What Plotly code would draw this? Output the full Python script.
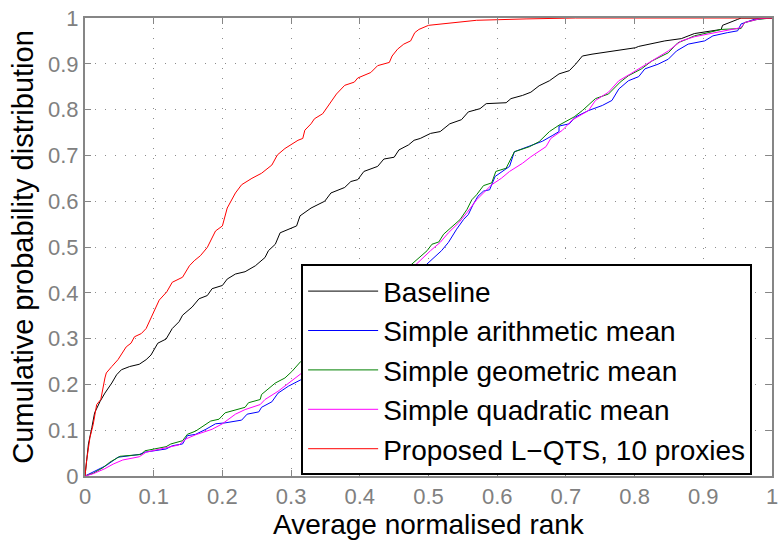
import plotly.graph_objects as go

# ---- data (average normalised rank, cumulative probability) ----
baseline_x = [0, 0.005, 0.010, 0.014, 0.022, 0.029, 0.039, 0.046, 0.053, 0.065, 0.079, 0.089, 0.096, 0.106,
              0.118, 0.127, 0.137, 0.142, 0.156, 0.166, 0.178, 0.185, 0.200, 0.207, 0.219, 0.233, 0.248, 0.262,
              0.267, 0.277, 0.284, 0.308, 0.313, 0.329, 0.349, 0.358, 0.378, 0.387, 0.397, 0.406, 0.426, 0.435,
              0.450, 0.457, 0.471, 0.479, 0.488, 0.503, 0.517, 0.531, 0.548, 0.558, 0.575, 0.584, 0.613, 0.620,
              0.637, 0.649, 0.661, 0.676, 0.690, 0.705, 0.714, 0.724, 0.738, 0.801, 0.806, 0.844, 0.868, 0.887,
              0.926, 0.928, 0.950, 0.955, 1.0]
baseline_y = [0, 0.070, 0.106, 0.138, 0.163, 0.181, 0.203, 0.221, 0.232, 0.239, 0.244, 0.254, 0.264, 0.290,
              0.299, 0.322, 0.337, 0.351, 0.369, 0.387, 0.394, 0.409, 0.416, 0.430, 0.441, 0.446, 0.459, 0.477,
              0.492, 0.506, 0.531, 0.546, 0.568, 0.585, 0.600, 0.618, 0.630, 0.643, 0.647, 0.665, 0.676, 0.692,
              0.696, 0.712, 0.723, 0.733, 0.737, 0.748, 0.752, 0.769, 0.778, 0.795, 0.802, 0.813, 0.815, 0.824,
              0.831, 0.838, 0.852, 0.863, 0.878, 0.885, 0.899, 0.917, 0.921, 0.935, 0.938, 0.950, 0.955, 0.966,
              0.975, 0.984, 0.997, 1.0, 1.0]

arith_x = [0, 0.010, 0.022, 0.031, 0.048, 0.079, 0.087, 0.118, 0.127, 0.142, 0.149, 0.161, 0.176, 0.190,
           0.204, 0.228, 0.236, 0.253, 0.257, 0.272, 0.281, 0.296, 0.314, 0.519, 0.529, 0.541, 0.551, 0.558,
           0.565, 0.572, 0.580, 0.589, 0.597, 0.611, 0.618, 0.625, 0.647, 0.666, 0.681, 0.690, 0.690, 0.705,
           0.714, 0.733, 0.753, 0.767, 0.777, 0.791, 0.806, 0.815, 0.834, 0.849, 0.861, 0.878, 0.902, 0.914,
           0.935, 0.950, 0.955, 0.974, 0.998, 1.0]
arith_y = [0, 0.008, 0.016, 0.023, 0.041, 0.047, 0.052, 0.059, 0.066, 0.070, 0.088, 0.091, 0.102, 0.114,
           0.116, 0.122, 0.135, 0.140, 0.150, 0.162, 0.181, 0.196, 0.210, 0.492, 0.510, 0.539, 0.560, 0.571,
           0.593, 0.611, 0.622, 0.625, 0.654, 0.668, 0.676, 0.708, 0.720, 0.731, 0.744, 0.752, 0.764, 0.769,
           0.784, 0.798, 0.809, 0.820, 0.845, 0.863, 0.872, 0.889, 0.899, 0.910, 0.928, 0.943, 0.950, 0.961,
           0.968, 0.972, 0.987, 0.997, 1.0, 1.0]

geo_x = [0, 0.012, 0.026, 0.036, 0.051, 0.082, 0.087, 0.118, 0.125, 0.142, 0.149, 0.161, 0.183, 0.195,
         0.204, 0.233, 0.238, 0.255, 0.257, 0.277, 0.291, 0.301, 0.314, 0.498, 0.505, 0.515, 0.522, 0.536,
         0.546, 0.556, 0.563, 0.570, 0.580, 0.592, 0.598, 0.613, 0.625, 0.647, 0.661, 0.676, 0.690, 0.712,
         0.724, 0.743, 0.762, 0.779, 0.791, 0.810, 0.825, 0.849, 0.863, 0.875, 0.887, 0.907, 0.926, 0.955,
         0.960, 0.979, 0.998, 1.0]
geo_y = [0, 0.006, 0.018, 0.030, 0.043, 0.047, 0.055, 0.064, 0.070, 0.077, 0.091, 0.098, 0.120, 0.124,
         0.138, 0.150, 0.160, 0.167, 0.178, 0.203, 0.214, 0.228, 0.250, 0.492, 0.506, 0.511, 0.528, 0.546,
         0.560, 0.582, 0.603, 0.614, 0.634, 0.640, 0.665, 0.672, 0.708, 0.719, 0.730, 0.752, 0.766, 0.784,
         0.798, 0.824, 0.834, 0.860, 0.874, 0.889, 0.906, 0.924, 0.946, 0.953, 0.961, 0.968, 0.975, 0.977,
         0.990, 0.997, 1.0, 1.0]

quad_x = [0, 0.012, 0.029, 0.041, 0.055, 0.079, 0.089, 0.118, 0.137, 0.147, 0.161, 0.185, 0.200, 0.219,
          0.233, 0.255, 0.262, 0.281, 0.296, 0.314, 0.503, 0.517, 0.529, 0.544, 0.556, 0.570, 0.580, 0.592,
          0.606, 0.618, 0.637, 0.649, 0.671, 0.678, 0.695, 0.709, 0.733, 0.743, 0.762, 0.777, 0.794, 0.810,
          0.830, 0.849, 0.868, 0.887, 0.907, 0.931, 0.955, 0.960, 0.984, 0.998, 1.0]
quad_y = [0, 0.005, 0.016, 0.026, 0.035, 0.042, 0.052, 0.062, 0.068, 0.081, 0.090, 0.102, 0.114, 0.135,
          0.145, 0.156, 0.167, 0.185, 0.203, 0.223, 0.492, 0.510, 0.531, 0.553, 0.575, 0.603, 0.618, 0.636,
          0.650, 0.665, 0.683, 0.697, 0.719, 0.737, 0.755, 0.777, 0.798, 0.820, 0.838, 0.863, 0.878, 0.892,
          0.910, 0.928, 0.950, 0.959, 0.965, 0.972, 0.979, 0.990, 0.999, 1.0, 1.0]

lqts_x = [0, 0.0024, 0.0072, 0.012, 0.017, 0.023, 0.029, 0.031, 0.039, 0.048, 0.060, 0.067, 0.072, 0.082,
          0.089, 0.096, 0.103, 0.108, 0.119, 0.127, 0.142, 0.152, 0.159, 0.168, 0.178, 0.183, 0.190, 0.200,
          0.207, 0.219, 0.228, 0.243, 0.257, 0.272, 0.280, 0.291, 0.310, 0.317, 0.320, 0.329, 0.334, 0.346,
          0.354, 0.366, 0.378, 0.392, 0.397, 0.416, 0.426, 0.443, 0.447, 0.455, 0.464, 0.474, 0.480, 0.486,
          0.500, 0.570, 0.642, 0.714, 1.0]
lqts_y = [0, 0.034, 0.084, 0.113, 0.156, 0.167, 0.214, 0.225, 0.239, 0.254, 0.282, 0.290, 0.304, 0.311,
          0.322, 0.344, 0.365, 0.384, 0.402, 0.423, 0.434, 0.459, 0.470, 0.481, 0.499, 0.513, 0.535, 0.546,
          0.585, 0.618, 0.636, 0.650, 0.661, 0.679, 0.701, 0.715, 0.733, 0.737, 0.755, 0.769, 0.780, 0.791,
          0.809, 0.834, 0.853, 0.860, 0.869, 0.881, 0.896, 0.903, 0.917, 0.932, 0.943, 0.950, 0.968, 0.975,
          0.984, 0.995, 0.998, 1.0, 1.0]

series = [
    ("Baseline", baseline_x, baseline_y, "#000000"),
    ("Simple arithmetic mean", arith_x, arith_y, "#0000ff"),
    ("Simple geometric mean", geo_x, geo_y, "#008000"),
    ("Simple quadratic mean", quad_x, quad_y, "#ff00ff"),
    ("Proposed L\u2212QTS, 10 proxies", lqts_x, lqts_y, "#ff0000"),
]

tick_vals = [i / 10 for i in range(11)]
tick_text = ["0", "0.1", "0.2", "0.3", "0.4", "0.5", "0.6", "0.7", "0.8", "0.9", "1"]

fig = go.Figure()
for name, xs, ys, col in series:
    fig.add_trace(go.Scatter(x=xs, y=ys, mode="lines", name=name,
                             line=dict(color=col, width=1)))

FONT = "Liberation Sans, Arial, Helvetica, sans-serif"
axis_common = dict(
    range=[0, 1], tickvals=tick_vals, ticktext=tick_text,
    showgrid=True, gridcolor="#8c8c8c", griddash="1px,9px", gridwidth=1,
    zeroline=False, showline=True, linecolor="#868686", linewidth=2,
    mirror="ticks", ticks="inside", ticklen=6, tickcolor="#868686", tickwidth=1,
    tickfont=dict(family=FONT, size=22, color="#808080"),
)

fig.update_layout(
    width=784, height=545,
    margin=dict(l=85, r=6, t=14, b=69),
    paper_bgcolor="white", plot_bgcolor="white",
    font=dict(family=FONT),
    xaxis=dict(title=dict(text="Average normalised rank", font=dict(size=28, color="black"), standoff=6),
               **axis_common),
    yaxis=dict(title=dict(text="Cumulative probability distribution", font=dict(size=29, color="black"), standoff=6),
               **axis_common),
    legend=dict(x=0.3146, y=0.462, xanchor="left", yanchor="top",
                bgcolor="white", bordercolor="black", borderwidth=2,
                font=dict(family=FONT, size=28, color="black"),
                itemwidth=70, tracegroupgap=0),
    showlegend=True,
)

fig.write_html("out.html")
